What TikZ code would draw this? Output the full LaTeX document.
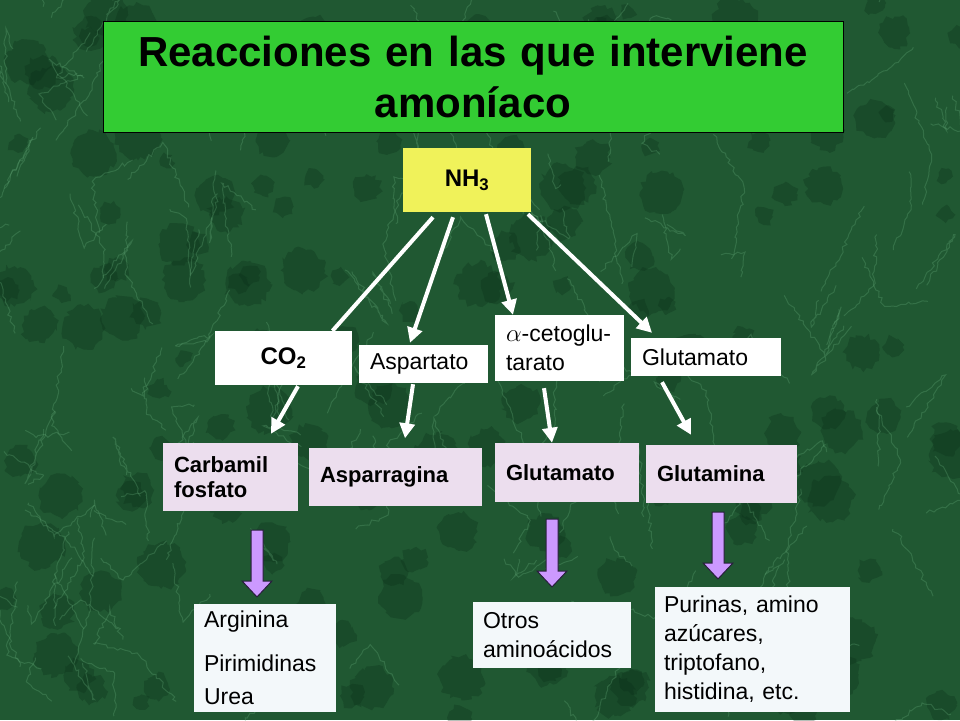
\documentclass[tikz,border=0pt]{standalone}
\usepackage{fontspec}
\setmainfont{Liberation Sans}
\usetikzlibrary{arrows.meta,decorations.pathmorphing}

\definecolor{fondo}{RGB}{32,88,50}
\definecolor{mancha}{RGB}{10,46,24}
\definecolor{veta}{RGB}{100,170,120}
\definecolor{verdetitulo}{RGB}{51,204,51}
\definecolor{amarillo}{RGB}{240,242,90}
\definecolor{lila}{RGB}{236,222,238}
\definecolor{celeste}{RGB}{243,248,250}
\definecolor{morado}{RGB}{204,153,255}

\tikzset{
  blanca/.style={fill=white, inner xsep=11pt, inner ysep=0pt, align=left,
    font=\fontsize{23}{29}\selectfont},
  lilacaja/.style={fill=lila, inner xsep=11pt, inner ysep=0pt, align=left,
    font=\bfseries\fontsize{22}{25}\selectfont},
  celestecaja/.style={fill=celeste, inner xsep=10pt, inner ysep=0pt, align=left,
    font=\fontsize{23}{29}\selectfont},
  flechab/.style={white, line width=4pt, -{Triangle[length=15pt,width=15pt]}},
  lineab/.style={white, line width=4pt},
  gorda/.style={fill=morado, draw={rgb,255:red,40;green,30;blue,60}, line width=1pt}
}

% flecha morada: x, y arriba, y punta
\newcommand{\flechagorda}[3]{%
  \draw[gorda] ({#1-6},#2) -- ({#1+6},#2) -- ({#1+6},{#3-16}) -- ({#1+15},{#3-16})
    -- (#1,#3) -- ({#1-15},{#3-16}) -- ({#1-6},{#3-16}) -- cycle;}

\begin{document}
\begin{tikzpicture}[x=1pt,y=-1pt]
  \useasboundingbox (0,0) rectangle (960,720);
  % fondo de marmol
  \fill[fondo] (0,0) rectangle (960,720);
  \pgfmathsetseed{11}
  \foreach \i in {1,...,170}{
    \pgfmathsetmacro{\cx}{rnd*960}
    \pgfmathsetmacro{\cy}{rnd*720}
    \pgfmathsetmacro{\rr}{6+rnd*18}
    \fill[mancha, opacity=0.3, decorate,
      decoration={random steps,segment length=4pt,amplitude=3pt}] (\cx,\cy) circle[radius=\rr pt];
  }
  \foreach \i in {1,...,160}{
    \pgfmathsetmacro{\cx}{rnd*960}
    \pgfmathsetmacro{\cy}{rnd*720}
    \pgfmathsetmacro{\dx}{rand*45}
    \pgfmathsetmacro{\dy}{rand*80}
    \pgfmathsetmacro{\ex}{rand*40}
    \pgfmathsetmacro{\ey}{rand*60}
    \draw[veta, opacity=0.3, line width=1pt, decorate,
      decoration={random steps,segment length=4pt,amplitude=2pt}]
      (\cx,\cy) -- ++(\dx,\dy) -- ++(\ex,\ey);
  }

  % titulo
  \node[fill=verdetitulo, draw=black, line width=0.8pt, text width=720pt, inner xsep=10pt,
    minimum height=111pt, align=center, font=\bfseries\fontsize{42}{51}\selectfont]
    (titulo) at (473,76.5) {Reacciones en las que interviene\\amoníaco};

  % cajas
  \node[fill=amarillo, text width=128pt, inner xsep=0pt, minimum height=64pt, align=center,
    font=\bfseries\fontsize{24}{29}\selectfont] (nh3) at (467,180) {NH\textsubscript{3}};
  \node[blanca, text width=115pt, minimum height=54pt, align=center,
    font=\bfseries\fontsize{24}{29}\selectfont] (co2) at (283.5,358) {CO\textsubscript{2}};
  \node[blanca, text width=107pt, minimum height=38pt] (asp) at (423.5,364) {Aspartato};
  \node[blanca, text width=107pt, minimum height=66pt] (ceto) at (559.5,348) {$\alpha$-cetoglu-\\tarato};
  \node[blanca, text width=128pt, minimum height=38pt] (glu1) at (706,357) {Glutamato};

  \node[lilacaja, text width=113pt, minimum height=68pt] (carb) at (230.5,477) {Carbamil\\fosfato};
  \node[lilacaja, text width=151pt, minimum height=58pt] (aspg) at (395.5,476.5) {Asparragina};
  \node[lilacaja, text width=122pt, minimum height=59pt] (glut) at (567,472.5) {Glutamato};
  \node[lilacaja, text width=129pt, minimum height=58pt] (glna) at (721.5,474) {Glutamina};

  \node[celestecaja, text width=122pt, minimum height=108pt, font=\fontsize{23}{33}\selectfont]
    (arg) at (265,658) {Arginina\\[11pt]Pirimidinas\\Urea};
  \node[celestecaja, text width=138pt, minimum height=66pt] (otros) at (552,635) {Otros\\aminoácidos};
  \node[celestecaja, text width=177pt, inner xsep=9pt, minimum height=125pt]
    (purinas) at (752.5,649.5) {Purinas, amino\\azúcares,\\triptofano,\\histidina, etc.};

  % flechas blancas
  \draw[lineab] ([xshift=-34pt,yshift=-5pt]nh3.south) -- ([xshift=49pt]co2.north);
  \draw[flechab] ([xshift=-14pt,yshift=-5pt]nh3.south) -- ([xshift=-13.5pt,yshift=2pt]asp.north);
  \draw[flechab] ([xshift=19pt,yshift=-2pt]nh3.south) -- ([xshift=-46.5pt]ceto.north);
  \draw[flechab] ([xshift=61pt,yshift=-2pt]nh3.south) -- ([xshift=-54pt,yshift=5pt]glu1.north);

  \draw[flechab] ([xshift=14.5pt,yshift=-1pt]co2.south) -- ([xshift=40.5pt,yshift=9pt]carb.north);
  \draw[flechab] ([xshift=-10.5pt,yshift=-1pt]asp.south) -- ([xshift=9.5pt,yshift=9pt]aspg.north);
  \draw[flechab] ([xshift=-15.5pt,yshift=-7pt]ceto.south) -- ([xshift=-15pt]glut.north);
  \draw[flechab] ([xshift=-44pt,yshift=-6pt]glu1.south) -- ([xshift=-30.5pt,yshift=10pt]glna.north);

  % flechas moradas
  \flechagorda{257}{530}{597}
  \flechagorda{552}{519}{587}
  \flechagorda{718}{512}{579}
\end{tikzpicture}
\end{document}
